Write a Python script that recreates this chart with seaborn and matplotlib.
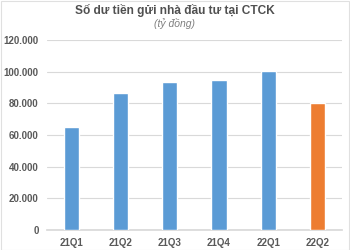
import matplotlib
matplotlib.use("Agg")
import matplotlib.pyplot as plt
import seaborn as sns
import pandas as pd
from matplotlib.ticker import FuncFormatter, MultipleLocator

quarters = ["21Q1", "21Q2", "21Q3", "21Q4", "22Q1", "22Q2"]
values = [65000, 86300, 93300, 94700, 100300, 80200]
colors = ["#5B9BD5", "#5B9BD5", "#5B9BD5", "#5B9BD5", "#5B9BD5", "#ED7D31"]
title = "Số dư tiền gửi nhà đầu tư tại CTCK"
subtitle = "(tỷ đồng)"

sns.set_theme(style="white")
plt.rcParams['font.family'] = ['Liberation Sans', 'DejaVu Sans']

df = pd.DataFrame({"q": quarters, "v": values})
fig = plt.figure(figsize=(3.5, 2.5), dpi=100)
ax = fig.add_axes([0.134, 0.08, 0.843, 0.76])
sns.barplot(data=df, x="q", y="v", hue="q", palette=colors, legend=False,
            width=0.31, saturation=1, ax=ax, zorder=3)
ax.set_ylim(0, 120000)
ax.set_xlim(-0.5, 5.5)
ax.yaxis.set_major_locator(MultipleLocator(20000))
ax.yaxis.set_major_formatter(FuncFormatter(lambda v, p: f"{int(v):,}".replace(",", ".")))
ax.grid(axis="y", color="#D9D9D9", linewidth=0.8, zorder=0)
for s in ["top", "right", "left"]:
    ax.spines[s].set_visible(False)
ax.spines["bottom"].set_color("#D9D9D9")
ax.set_xlabel("")
ax.set_ylabel("")
ax.tick_params(axis="both", length=0, labelsize=7, labelcolor="#595959", pad=6)
for lbl in ax.get_xticklabels() + ax.get_yticklabels():
    lbl.set_fontweight("bold")
fig.text(0.5, 0.958, title, ha="center", va="center", fontsize=8.6, fontweight="bold", color="#505050")
fig.text(0.5, 0.905, subtitle, ha="center", va="center", fontsize=7.5, style="italic", color="#7F7F7F")
fig.patches.append(plt.Rectangle((0.002, 0.002), 0.996, 0.996, transform=fig.transFigure,
                                 fill=False, edgecolor="#E0E0E0", linewidth=0.8))
fig.savefig("out.png", dpi=100)
